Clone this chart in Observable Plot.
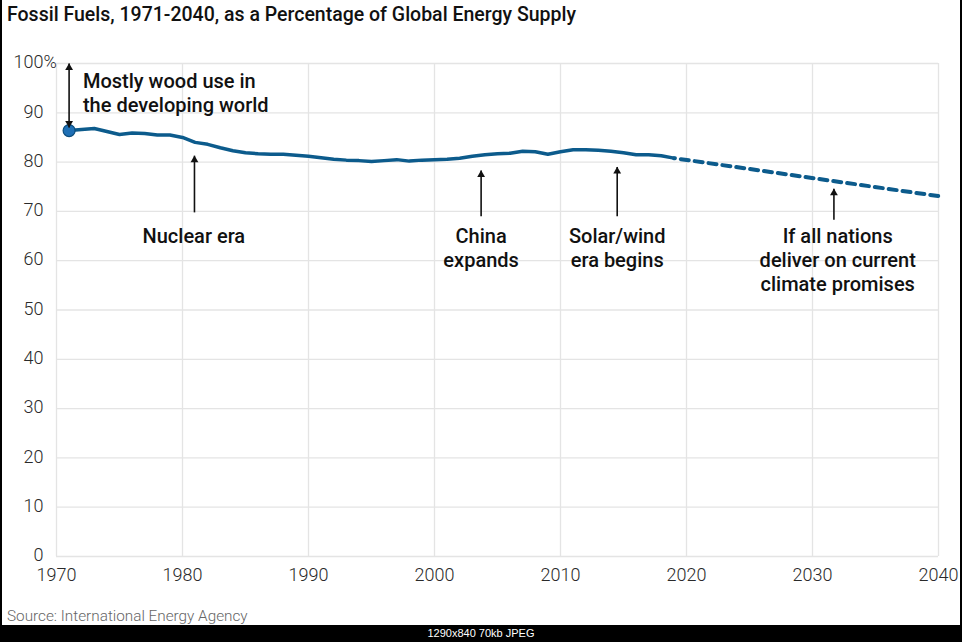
<!DOCTYPE html>
<html>
<head>
<meta charset="utf-8">
<script src="https://cdn.jsdelivr.net/npm/d3@7"></script>
<script src="https://cdn.jsdelivr.net/npm/@observablehq/plot@0.6"></script>
<style>
  html, body { margin: 0; padding: 0; background: #fff; }
  #wrap { position: relative; width: 962px; height: 642px; background: #fff; overflow: hidden; font-family: Roboto, "Noto Sans", sans-serif; }
  #title { position: absolute; left: 7px; top: 1px; font-size: 19.5px; font-weight: 500; color: #111; white-space: nowrap; line-height: 28px; }
  #chart { position: absolute; left: 0; top: 30px; }
  #source { position: absolute; left: 7px; top: 606px; font-size: 15.3px; font-weight: 300; color: #666; white-space: nowrap; line-height: 20px; }
  #lb { position: absolute; left: 0; top: 0; width: 2px; height: 625px; background: #000; }
  #rb { position: absolute; left: 960px; top: 0; width: 2px; height: 625px; background: #000; }
  #band { position: absolute; left: 0; top: 625px; width: 962px; height: 17px; background: #000; color: #fff; font-size: 11px; line-height: 17px; text-align: center; font-family: "Liberation Sans", sans-serif; }
</style>
</head>
<body>
<div id="wrap">
  <div id="title">Fossil Fuels, 1971-2040, as a Percentage of Global Energy Supply</div>
  <div id="chart"></div>
  <div id="source">Source: International Energy Agency</div>
  <div id="lb"></div>
  <div id="rb"></div>
  <div id="band">1290x840 70kb JPEG</div>
</div>
<script>
// Historical share of fossil fuels in global energy supply (%)
const years = [1971,1972,1973,1974,1975,1976,1977,1978,1979,1980,
  1981,1982,1983,1984,1985,1986,1987,1988,1989,1990,
  1991,1992,1993,1994,1995,1996,1997,1998,1999,2000,
  2001,2002,2003,2004,2005,2006,2007,2008,2009,2010,
  2011,2012,2013,2014,2015,2016,2017,2018,2019];
const share = [86.4,86.6,86.8,86.2,85.6,85.9,85.8,85.5,85.5,85.0,
  84.0,83.6,82.9,82.3,81.9,81.7,81.6,81.6,81.4,81.2,
  80.9,80.6,80.4,80.3,80.1,80.3,80.5,80.2,80.4,80.5,
  80.6,80.8,81.2,81.5,81.7,81.8,82.2,82.1,81.6,82.1,
  82.5,82.5,82.4,82.2,81.9,81.5,81.5,81.3,80.8];

// Projection if all nations deliver on current climate promises
const projYears = [2019, 2040];
const projShare = [80.8, 73.1];

// Ticks
const xTicks = [1970,1980,1990,2000,2010,2020,2030,2040];
const yTicks = [0,10,20,30,40,50,60,70,80,90,100];

// Annotations
const woodText = "Mostly wood use in\nthe developing world";
const woodTextYear = 1972.1;
const woodTextValue = 98.5;
const woodArrowYear = 1971;
const woodArrowFrom = 87;
const woodArrowTo = 100;

const noteText = ["Nuclear era", "China\nexpands", "Solar/wind\nera begins", "If all nations\ndeliver on current\nclimate promises"];
const noteTextYear = [1980.9, 2003.7, 2014.5, 2032.0];
const noteTextValue = [67.0, 67.0, 67.0, 67.0];
const arrowYear = [1980.95, 2003.7, 2014.5, 2031.7];
const arrowFrom = [69.8, 69.0, 69.0, 68.3];
const arrowTo = [81.3, 78.3, 79.0, 74.6];

const hist = years.map((y, i) => ({year: y, share: share[i]}));
const proj = projYears.map((y, i) => ({year: y, share: projShare[i]}));
const notes = noteText.map((t, i) => ({text: t, year: noteTextYear[i], value: noteTextValue[i]}));
const arrows = arrowYear.map((y, i) => ({year: y, from: arrowFrom[i], to: arrowTo[i]}));
const woodArrow = [{year: woodArrowYear, from: woodArrowFrom, to: woodArrowTo}];

const lineColor = "#0c5b8c";

const chart = Plot.plot({
  width: 962,
  height: 570,
  marginLeft: 56,
  marginRight: 24,
  marginTop: 33,
  marginBottom: 44,
  style: {fontFamily: "Roboto, 'Noto Sans', sans-serif", color: "#333", background: "transparent", overflow: "visible"},
  x: {domain: [1970, 2040]},
  y: {domain: [0, 100]},
  marks: [
    Plot.gridX(xTicks, {stroke: "#e4e4e4", strokeOpacity: 1, strokeWidth: 1.3}),
    Plot.gridY(yTicks, {stroke: "#e4e4e4", strokeOpacity: 1, strokeWidth: 1.3}),
    Plot.axisX(xTicks, {tickSize: 0, tickPadding: 12, tickFormat: d => String(d), label: null, fontSize: 18, fontWeight: 300, fill: "#2a2a2a"}),
    Plot.axisY(yTicks, {tickSize: 0, tickPadding: 13, tickFormat: d => String(d), label: null, fontSize: 18, fontWeight: 300, fill: "#2a2a2a", dy: -1}),
    Plot.text([{t: "%"}], {x: () => xTicks[0], y: () => yTicks[yTicks.length - 1], text: "t", dx: -13, dy: -1, textAnchor: "start", fontSize: 18, fontWeight: 300, fill: "#2a2a2a"}),
    Plot.line(proj, {x: "year", y: "share", stroke: lineColor, strokeWidth: 4, strokeDasharray: "8,6", strokeDashoffset: -7}),
    Plot.line(hist, {x: "year", y: "share", stroke: lineColor, strokeWidth: 3.5, strokeLinejoin: "round", strokeLinecap: "round"}),
    Plot.dot([hist[0]], {x: "year", y: "share", r: 6, fill: "#1e6fb5", stroke: "#0b4d7d", strokeWidth: 1.2}),
    // arrows
    Plot.link(arrows, {x1: "year", x2: "year", y1: "from", y2: "to", stroke: "#111", strokeWidth: 1.6}),
    Plot.dot(arrows, {x: "year", y: "to", symbol: "triangle", r: 2.9, fill: "#111", stroke: "none", dy: 4.3}),
    Plot.link(woodArrow, {x1: "year", x2: "year", y1: "from", y2: "to", stroke: "#111", strokeWidth: 1.6}),
    Plot.dot(woodArrow, {x: "year", y: "to", symbol: "triangle", r: 2.9, fill: "#111", stroke: "none", dy: 4.3}),
    Plot.dot(woodArrow, {x: "year", y: "from", symbol: "triangle", r: 2.9, fill: "#111", stroke: "none", rotate: 180, dy: -4.3}),
    // labels
    Plot.text(notes, {x: "year", y: "value", text: "text", lineAnchor: "top", textAnchor: "middle", lineHeight: 1.2, fontSize: 20, fontWeight: 500, fill: "#111"}),
    Plot.text([{t: woodText}], {x: () => woodTextYear, y: () => woodTextValue, text: "t", lineAnchor: "top", textAnchor: "start", lineHeight: 1.2, fontSize: 20, fontWeight: 500, fill: "#111"})
  ]
});
document.getElementById("chart").appendChild(chart);
</script>
</body>
</html>
